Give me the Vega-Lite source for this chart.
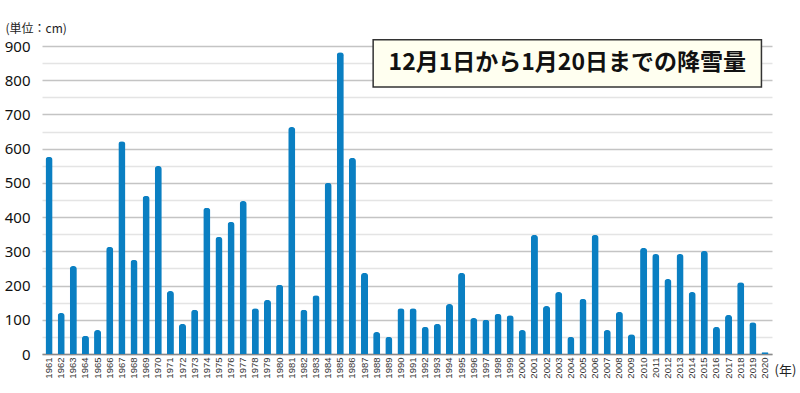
{
  "$schema": "https://vega.github.io/schema/vega-lite/v6.json",
  "width": 730,
  "height": 308,
  "autosize": "none",
  "padding": {"left": 42, "top": 46, "right": 28, "bottom": 39},
  "background": "white",
  "config": {"view": {"stroke": null}},
  "datasets": {
    "snow": [
      {"year": "1961", "cm": 576}, {"year": "1962", "cm": 120}, {"year": "1963", "cm": 257},
      {"year": "1964", "cm": 53}, {"year": "1965", "cm": 70}, {"year": "1966", "cm": 313},
      {"year": "1967", "cm": 622}, {"year": "1968", "cm": 275}, {"year": "1969", "cm": 462},
      {"year": "1970", "cm": 549}, {"year": "1971", "cm": 184}, {"year": "1972", "cm": 88},
      {"year": "1973", "cm": 129}, {"year": "1974", "cm": 427}, {"year": "1975", "cm": 342},
      {"year": "1976", "cm": 386}, {"year": "1977", "cm": 447}, {"year": "1978", "cm": 134},
      {"year": "1979", "cm": 158}, {"year": "1980", "cm": 202}, {"year": "1981", "cm": 663},
      {"year": "1982", "cm": 129}, {"year": "1983", "cm": 172}, {"year": "1984", "cm": 500},
      {"year": "1985", "cm": 882}, {"year": "1986", "cm": 573}, {"year": "1987", "cm": 237},
      {"year": "1988", "cm": 64}, {"year": "1989", "cm": 50}, {"year": "1990", "cm": 134},
      {"year": "1991", "cm": 134}, {"year": "1992", "cm": 79}, {"year": "1993", "cm": 88},
      {"year": "1994", "cm": 146}, {"year": "1995", "cm": 237}, {"year": "1996", "cm": 105},
      {"year": "1997", "cm": 100}, {"year": "1998", "cm": 117}, {"year": "1999", "cm": 113},
      {"year": "2000", "cm": 70}, {"year": "2001", "cm": 348}, {"year": "2002", "cm": 140},
      {"year": "2003", "cm": 181}, {"year": "2004", "cm": 50}, {"year": "2005", "cm": 161},
      {"year": "2006", "cm": 348}, {"year": "2007", "cm": 70}, {"year": "2008", "cm": 123},
      {"year": "2009", "cm": 58}, {"year": "2010", "cm": 310}, {"year": "2011", "cm": 292},
      {"year": "2012", "cm": 219}, {"year": "2013", "cm": 292}, {"year": "2014", "cm": 181},
      {"year": "2015", "cm": 301}, {"year": "2016", "cm": 79}, {"year": "2017", "cm": 114},
      {"year": "2018", "cm": 210}, {"year": "2019", "cm": 93}, {"year": "2020", "cm": 5}
    ],
    "box": [
      {"year": "1988", "year2": "2020", "cm": 780, "cm2": 918, "xt": "2004", "yt": 849, "label": "12月1日から1月20日までの降雪量"}
    ]
  },
  "encoding": {
    "y": {
      "field": "cm",
      "type": "quantitative",
      "scale": {"domain": [0, 900], "nice": false},
      "axis": {
        "title": "(単位：cm)",
        "titleAngle": 0,
        "titleX": -37,
        "titleY": -18,
        "titleAlign": "left",
        "titleBaseline": "middle",
        "titleFont": "Noto Sans CJK JP",
        "titleFontSize": 12,
        "titleFontWeight": "normal",
        "titleColor": "#222222",
        "values": [0, 50, 100, 150, 200, 250, 300, 350, 400, 450, 500, 550, 600, 650, 700, 750, 800, 850, 900],
        "labelExpr": "datum.value % 100 == 0 ? datum.label : ''",
        "labelOverlap": false,
        "labelFont": "Noto Sans",
        "labelFontSize": 15,
        "labelColor": "#111111",
        "labelPadding": 12,
        "ticks": false,
        "domain": false,
        "grid": true,
        "gridColor": "#c4c4c4",
        "gridOpacity": {"condition": {"test": "datum.value % 100 == 0", "value": 1}, "value": 0.45},
        "gridWidth": 1.5
      }
    },
    "x": {
      "field": "year",
      "type": "ordinal",
      "scale": {"paddingInner": 0.42, "paddingOuter": 0.29},
      "axis": {
        "title": "(年)",
        "titleX": 743,
        "titleY": 16,
        "titleAngle": 0,
        "titleAlign": "center",
        "titleBaseline": "middle",
        "titleFont": "Noto Sans CJK JP",
        "titleFontSize": 13,
        "titleFontWeight": "normal",
        "titleColor": "#222222",
        "labelAngle": -90,
        "labelFont": "Liberation Sans",
        "labelFontSize": 9.5,
        "labelColor": "#333333",
        "labelPadding": 3,
        "ticks": false,
        "domainColor": "#8a8a8a",
        "domainWidth": 1.5,
        "grid": false
      }
    }
  },
  "layer": [
    {
      "data": {"name": "snow"},
      "mark": {"type": "bar", "color": "#0a7fc2", "cornerRadiusEnd": 3}
    },
    {
      "data": {"name": "box"},
      "mark": {"type": "rect", "fill": "#fffff0", "stroke": "#333333", "strokeWidth": 1.5},
      "encoding": {
        "x": {"field": "year", "type": "ordinal", "bandPosition": 0},
        "x2": {"field": "year2", "bandPosition": 0},
        "y2": {"field": "cm2"}
      }
    },
    {
      "data": {"name": "box"},
      "mark": {"type": "text", "font": "Noto Sans CJK JP", "fontSize": 23, "fontWeight": "bold", "color": "#111111", "align": "center", "baseline": "middle"},
      "encoding": {
        "x": {"field": "xt", "type": "ordinal", "bandPosition": 0},
        "y": {"field": "yt", "type": "quantitative"},
        "text": {"field": "label"}
      }
    }
  ]
}
